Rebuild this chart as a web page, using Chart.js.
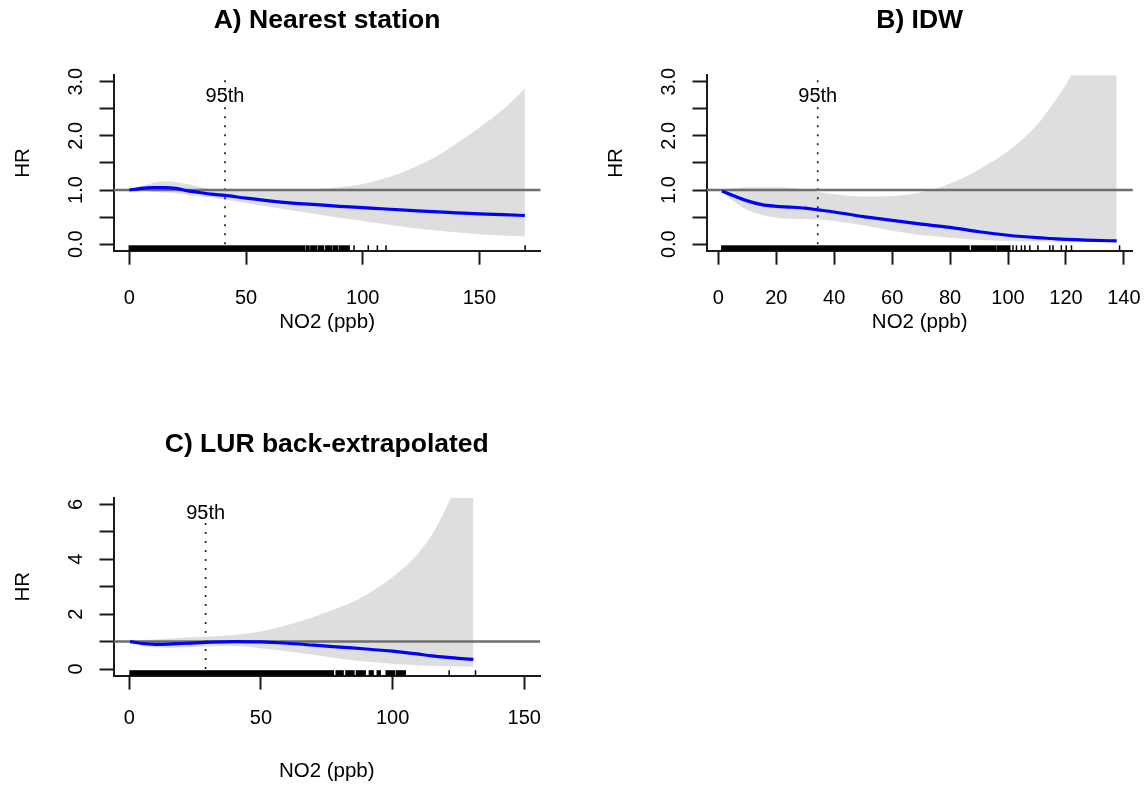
<!DOCTYPE html>
<html>
<head>
<meta charset="utf-8">
<script src="https://cdn.jsdelivr.net/npm/chart.js@4.4.1/dist/chart.umd.min.js"></script>
<style>
  html, body { margin: 0; padding: 0; background: #ffffff; }
  body { width: 1147px; height: 786px; position: relative; overflow: hidden; }
  canvas { position: absolute; }
</style>
</head>
<body>
<canvas id="panelA" width="573" height="393" style="left:0px;top:0px"></canvas>
<canvas id="panelB" width="554" height="393" style="left:593px;top:0px"></canvas>
<canvas id="panelC" width="573" height="393" style="left:0px;top:393px"></canvas>
<script>
// ---------- A) Nearest station ----------
const A_NO2   = [0, 5, 10, 15, 20, 25, 30, 35, 41, 50, 60, 70, 80, 90, 100, 110, 120, 130, 140, 150, 160, 169.5];
const A_HR    = [1.00, 1.03, 1.045, 1.045, 1.03, 0.985, 0.955, 0.925, 0.90, 0.85, 0.80, 0.76, 0.73, 0.70, 0.675, 0.65, 0.625, 0.60, 0.58, 0.56, 0.545, 0.53];
const A_LOWER = [1.00, 0.99, 0.97, 0.955, 0.94, 0.915, 0.89, 0.86, 0.82, 0.76, 0.69, 0.62, 0.555, 0.49, 0.43, 0.37, 0.31, 0.26, 0.22, 0.185, 0.16, 0.14];
const A_UPPER = [1.00, 1.07, 1.13, 1.16, 1.15, 1.11, 1.06, 1.02, 1.00, 0.99, 0.99, 1.00, 1.02, 1.05, 1.11, 1.22, 1.38, 1.58, 1.85, 2.15, 2.48, 2.87];
const A_P95   = 41;
const A_RUG_RUNS  = [[0, 75], [75.8, 77], [77.8, 80.2], [81, 83.2], [84.2, 86.8], [87.6, 89.2], [90, 94.2]];
const A_RUG_TICKS = [96.3, 102.4, 106.3, 110, 169.6];
const A_XTICKS  = [0, 50, 100, 150];
const A_YTICKS  = [0, 0.5, 1, 1.5, 2, 2.5, 3];
const A_YLABELS = [0, 1, 2, 3];
const A_XLIM = [-6.78, 176.28];
const A_YLIM = [-0.12, 3.12];

// ---------- B) IDW ----------
const B_NO2   = [1.2, 5, 10, 15, 20, 25, 30, 34.3, 40, 50, 60, 70, 80, 90, 100, 110, 115, 120, 125, 130, 137.5];
const B_HR    = [0.98, 0.90, 0.80, 0.73, 0.70, 0.685, 0.665, 0.635, 0.595, 0.51, 0.44, 0.37, 0.31, 0.23, 0.165, 0.12, 0.105, 0.09, 0.08, 0.07, 0.06];
const B_LOWER = [0.97, 0.80, 0.63, 0.54, 0.49, 0.47, 0.465, 0.455, 0.43, 0.35, 0.25, 0.17, 0.12, 0.08, 0.06, 0.05, 0.047, 0.045, 0.04, 0.04, 0.035];
const B_UPPER = [1.00, 1.03, 1.05, 1.05, 1.05, 1.04, 1.00, 0.97, 0.92, 0.88, 0.89, 0.96, 1.12, 1.38, 1.72, 2.2, 2.55, 2.95, 3.45, 4.0, 5.0];
const B_P95   = 34.3;
const B_RUG_RUNS  = [[1.2, 86.5], [87.4, 95.8], [96.4, 100.6]];
const B_RUG_TICKS = [101.7, 102.9, 104.6, 105.8, 107.5, 110.3, 114.4, 115.5, 118.4, 120.1, 121.9, 138.5];
const B_XTICKS  = [0, 20, 40, 60, 80, 100, 120, 140];
const B_YTICKS  = [0, 0.5, 1, 1.5, 2, 2.5, 3];
const B_YLABELS = [0, 1, 2, 3];
const B_XLIM = [-4.1, 143.1];
const B_YLIM = [-0.12, 3.12];

// ---------- C) LUR back-extrapolated ----------
const C_NO2   = [0.3, 5, 10, 15, 20, 29, 40, 50, 60, 70, 80, 90, 100, 105, 110, 115, 120, 125, 130.7];
const C_HR    = [1.00, 0.93, 0.90, 0.91, 0.93, 0.97, 1.00, 0.99, 0.94, 0.87, 0.80, 0.73, 0.65, 0.60, 0.54, 0.48, 0.43, 0.39, 0.35];
const C_LOWER = [1.00, 0.84, 0.78, 0.77, 0.78, 0.82, 0.84, 0.76, 0.65, 0.52, 0.37, 0.27, 0.19, 0.16, 0.13, 0.12, 0.11, 0.10, 0.09];
const C_UPPER = [1.00, 1.05, 1.08, 1.11, 1.14, 1.18, 1.24, 1.37, 1.60, 1.90, 2.25, 2.70, 3.35, 3.75, 4.25, 4.9, 5.8, 6.9, 8.5];
const C_P95   = 29;
const C_RUG_RUNS  = [[0.3, 77.5], [78.6, 81.2], [82.3, 85.3], [86.3, 89.6], [91.2, 92.6], [94.2, 95.3], [97.6, 100.8], [101.6, 104.8]];
const C_RUG_TICKS = [121.5, 131.5];
const C_XTICKS  = [0, 50, 100, 150];
const C_YTICKS  = [0, 1, 2, 3, 4, 5, 6];
const C_YLABELS = [0, 2, 4, 6];
const C_XLIM = [-6, 156];
const C_YLIM = [-0.24, 6.24];

const REF_HR = 1;

// ---------- styling ----------
const FONT  = "'Liberation Sans', Arial, Helvetica, sans-serif";
const INK   = '#1a1a1a';
const BLUE  = '#0000ff';
const BAND  = '#dedede';
const REFC  = '#6e6e6e';

const zip = (xs, ys) => xs.map((x, i) => ({ x, y: ys[i] }));

// rug of exposure values along the bottom edge of the plot region
const rugPlugin = {
  id: 'rug',
  afterDatasetsDraw(chart, args, opts) {
    const { ctx, chartArea, scales } = chart;
    const xs = scales.x;
    const h = 5.4;
    ctx.save();
    ctx.fillStyle = '#000';
    ctx.strokeStyle = '#000';
    ctx.lineWidth = 1.5;
    (opts.runs || []).forEach(([a, b]) => {
      const x1 = xs.getPixelForValue(a), x2 = xs.getPixelForValue(b);
      ctx.fillRect(x1 - 0.75, chartArea.bottom - h, x2 - x1 + 1.5, h);
    });
    (opts.ticks || []).forEach(v => {
      const px = xs.getPixelForValue(v);
      ctx.beginPath();
      ctx.moveTo(px, chartArea.bottom);
      ctx.lineTo(px, chartArea.bottom - h);
      ctx.stroke();
    });
    ctx.restore();
  }
};

// "95th" caption above the percentile marker
const pctLabelPlugin = {
  id: 'pctLabel',
  afterDatasetsDraw(chart, args, opts) {
    if (opts.value == null) return;
    const { ctx, chartArea, scales } = chart;
    ctx.save();
    ctx.font = '20px ' + FONT;
    ctx.fillStyle = '#000';
    ctx.textAlign = 'center';
    ctx.textBaseline = 'middle';
    ctx.fillText(opts.text, scales.x.getPixelForValue(opts.value), chartArea.top + opts.dy);
    ctx.restore();
  }
};

function panel(id, d, L) {
  const tickFont = { family: FONT, size: 20 };
  const gridOpts = { drawOnChartArea: false, drawTicks: true, tickLength: 14, tickWidth: 2, tickColor: INK, color: INK };
  const borderOpts = { display: true, color: INK, width: 2 };
  const zeroPad = s => { s.paddingLeft = 0; s.paddingRight = 0; s.paddingTop = 0; s.paddingBottom = 0; };

  return new Chart(document.getElementById(id), {
    type: 'line',
    data: {
      datasets: [
        { label: 'HR', data: zip(d.no2, d.hr), borderColor: BLUE, borderWidth: 3.2,
          pointRadius: 0, cubicInterpolationMode: 'monotone', fill: false, order: 0 },
        { label: 'HR = 1', data: [{ x: d.xlim[0], y: REF_HR }, { x: d.xlim[1], y: REF_HR }],
          borderColor: REFC, borderWidth: 2.5, pointRadius: 0, fill: false, order: 1 },
        { label: '95th percentile', data: [{ x: d.p95, y: 0 }, { x: d.p95, y: d.ylim[1] }],
          borderColor: '#222', borderWidth: 1.7, borderDash: [2, 7], pointRadius: 0, fill: false, order: 2 },
        { label: 'upper', data: zip(d.no2, d.upper), borderColor: 'rgba(0,0,0,0)', borderWidth: 0,
          backgroundColor: BAND, pointRadius: 0, cubicInterpolationMode: 'monotone', fill: '+1', order: 3 },
        { label: 'lower', data: zip(d.no2, d.lower), borderColor: 'rgba(0,0,0,0)', borderWidth: 0,
          pointRadius: 0, cubicInterpolationMode: 'monotone', fill: false, order: 4 }
      ]
    },
    options: {
      responsive: false,
      animation: false,
      devicePixelRatio: 1,
      events: [],
      layout: { padding: { left: 0, right: L.padRight, top: 0, bottom: 0 } },
      plugins: {
        legend: { display: false },
        tooltip: { enabled: false },
        title: {
          display: true, text: d.title, fullSize: false, color: '#000',
          font: { family: FONT, size: 26.5, weight: 'bold', lineHeight: 1.2 },
          padding: { top: L.titleTop, bottom: L.titleBottom }
        },
        rug: { runs: d.rugRuns, ticks: d.rugTicks },
        pctLabel: { value: d.p95, text: '95th', dy: L.pctDy }
      },
      scales: {
        x: {
          type: 'linear', position: 'bottom', min: d.xlim[0], max: d.xlim[1],
          afterBuildTicks: s => { s.ticks = d.xticks.map(v => ({ value: v })); },
          afterFit: s => { s.height = L.xH; zeroPad(s); },
          grid: gridOpts, border: borderOpts,
          ticks: { color: '#000', font: tickFont, padding: L.xTickPad, autoSkip: false,
                   maxRotation: 0, callback: v => String(v) },
          title: { display: true, text: 'NO2 (ppb)', color: '#000',
                   font: { family: FONT, size: 20.5, lineHeight: 1.2 },
                   padding: { top: 0, bottom: L.xTitlePad } }
        },
        y: {
          type: 'linear', position: 'left', min: d.ylim[0], max: d.ylim[1],
          afterBuildTicks: s => { s.ticks = d.yticks.map(v => ({ value: v })); },
          afterFit: s => { s.width = L.yW; zeroPad(s); },
          grid: gridOpts, border: borderOpts,
          ticks: { color: '#000', font: tickFont, padding: L.yTickPad, autoSkip: false,
                   minRotation: 90, maxRotation: 90, crossAlign: 'center',
                   callback: v => d.ylabels.includes(v) ? v.toFixed(d.digits) : '' },
          title: { display: true, text: 'HR', color: '#000',
                   font: { family: FONT, size: 20.5, lineHeight: 1.2 },
                   padding: { top: L.yTitlePad, bottom: 0 } }
        }
      }
    },
    plugins: [rugPlugin, pctLabelPlugin]
  });
}

const topRow = { yW: 113.5, titleTop: 4.3, titleBottom: 39.1, xH: 142.3, xTickPad: 21.3,
                 xTitlePad: 58, yTickPad: 9.6, yTitlePad: 11, pctDy: 21 };

panel('panelA', {
  title: 'A) Nearest station', no2: A_NO2, hr: A_HR, lower: A_LOWER, upper: A_UPPER, p95: A_P95,
  rugRuns: A_RUG_RUNS, rugTicks: A_RUG_TICKS, xticks: A_XTICKS, yticks: A_YTICKS,
  ylabels: A_YLABELS, xlim: A_XLIM, ylim: A_YLIM, digits: 1
}, Object.assign({ padRight: 32.3 }, topRow));

panel('panelB', {
  title: 'B) IDW', no2: B_NO2, hr: B_HR, lower: B_LOWER, upper: B_UPPER, p95: B_P95,
  rugRuns: B_RUG_RUNS, rugTicks: B_RUG_TICKS, xticks: B_XTICKS, yticks: B_YTICKS,
  ylabels: B_YLABELS, xlim: B_XLIM, ylim: B_YLIM, digits: 1
}, Object.assign({ padRight: 14.1 }, topRow));

panel('panelC', {
  title: 'C) LUR back-extrapolated', no2: C_NO2, hr: C_HR, lower: C_LOWER, upper: C_UPPER, p95: C_P95,
  rugRuns: C_RUG_RUNS, rugTicks: C_RUG_TICKS, xticks: C_XTICKS, yticks: C_YTICKS,
  ylabels: C_YLABELS, xlim: C_XLIM, ylim: C_YLIM, digits: 0
}, { padRight: 33, yW: 113.5, titleTop: 35.8, titleBottom: 37.2, xH: 110.4, xTickPad: 16.4,
     xTitlePad: 2, yTickPad: 17.9, yTitlePad: 11, pctDy: 16 });
</script>
</body>
</html>
